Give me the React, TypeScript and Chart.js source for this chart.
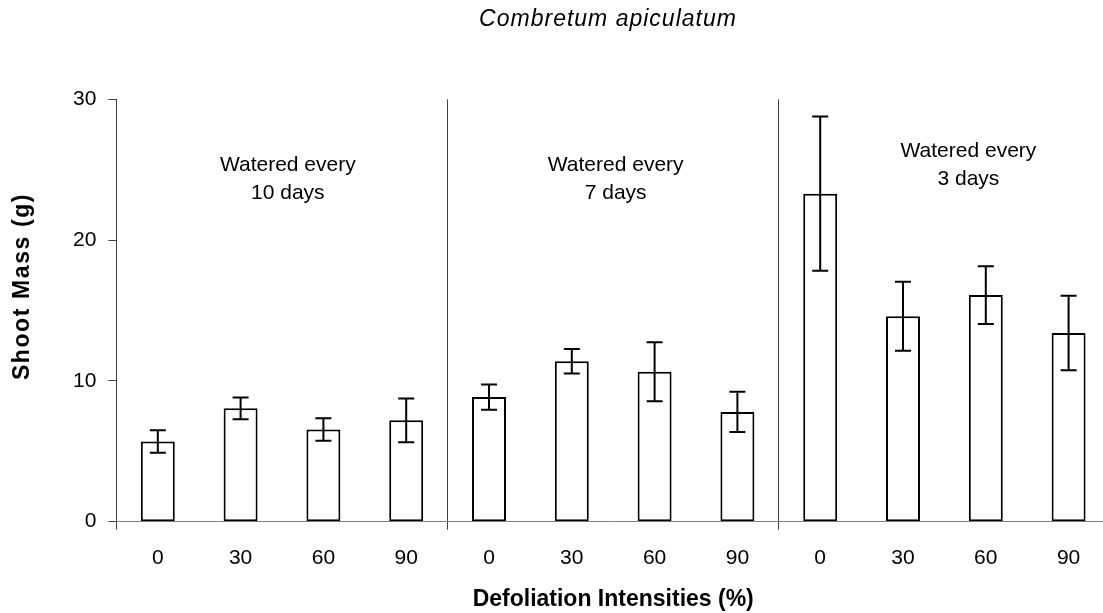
import { useEffect, useRef } from "react";
import { Chart, registerables } from "chart.js";

Chart.register(...registerables);

// Defoliation intensity (%) for each pot, three watering regimes of four treatments
const defoliation = ["0", "30", "60", "90", "0", "30", "60", "90", "0", "30", "60", "90"];
// Mean shoot mass (g)
const shootMass = [5.7, 8.05, 6.55, 7.2, 8.85, 11.4, 10.65, 7.8, 23.3, 14.6, 16.1, 13.4];
// Standard error of the mean (g)
const standardError = [0.8, 0.77, 0.8, 1.55, 0.9, 0.87, 2.1, 1.43, 5.47, 2.45, 2.05, 2.64];
// Shoot mass axis ticks
const massTicks = [0, 10, 20, 30];
// Watering regime captions, one per group of four bars
const regimeCaptions = [
  ["Watered every", "10 days"],
  ["Watered every", "7 days"],
  ["Watered every", "3 days"],
];

const FONT = "'Liberation Sans', Arial, Helvetica, sans-serif";
const W = 1126;
const H = 613;

// where each caption sits: category index and shoot-mass value of its first line
const captionAnchors = [
  { index: 1.57, mass: 25.3 },
  { index: 5.53, mass: 25.3 },
  { index: 9.79, mass: 26.3 },
];

const overlayPlugin = {
  id: "overlay",
  afterDatasetsDraw(chart: any) {
    const { ctx, scales } = chart;
    const x = scales.x;
    const y = scales.y;
    ctx.save();

    // error bars (mean ± SE)
    ctx.strokeStyle = "#000";
    ctx.lineWidth = 2;
    const meta = chart.getDatasetMeta(0);
    meta.data.forEach((bar: any, i: number) => {
      const cx = bar.x;
      const hi = y.getPixelForValue(shootMass[i] + standardError[i]);
      const lo = y.getPixelForValue(shootMass[i] - standardError[i]);
      ctx.beginPath();
      ctx.moveTo(cx, hi);
      ctx.lineTo(cx, lo);
      ctx.moveTo(cx - 8, hi);
      ctx.lineTo(cx + 8, hi);
      ctx.moveTo(cx - 8, lo);
      ctx.lineTo(cx + 8, lo);
      ctx.stroke();
    });

    // watering regime captions
    ctx.fillStyle = "#000";
    ctx.font = `21px ${FONT}`;
    ctx.textAlign = "center";
    ctx.textBaseline = "middle";
    regimeCaptions.forEach((lines, g) => {
      const a = captionAnchors[g];
      const px = x.getPixelForValue(a.index);
      const py = y.getPixelForValue(a.mass);
      lines.forEach((line, k) => ctx.fillText(line, px, py + k * 28));
    });

    // chart title
    ctx.font = `italic 23px ${FONT}`;
    (ctx as any).letterSpacing = "1px";
    ctx.fillText("Combretum apiculatum", 608, 20);

    // vertical axis title
    ctx.translate(22.5, 286.5);
    ctx.rotate(-Math.PI / 2);
    ctx.font = `bold 23px ${FONT}`;
    (ctx as any).letterSpacing = "1.6px";
    ctx.fillText("Shoot Mass (g)", 0, 0);

    ctx.restore();
  },
};

const BOUNDARIES = [0, 4, 8, 12];

export default function App() {
  const canvasRef = useRef<HTMLCanvasElement | null>(null);

  useEffect(() => {
    const canvas = canvasRef.current;
    if (!canvas) return;
    const chart = new Chart(canvas, {
      type: "bar",
      data: {
        labels: defoliation,
        datasets: [
          {
            data: shootMass,
            backgroundColor: "#ffffff",
            borderColor: "#000000",
            borderWidth: 2,
            borderSkipped: false,
            barPercentage: 0.41,
            categoryPercentage: 1,
          },
        ],
      },
      options: {
        responsive: false,
        animation: false,
        devicePixelRatio: 1,
        layout: { padding: { top: 99.3, left: 0, right: W - 1110, bottom: 0 } },
        plugins: {
          legend: { display: false },
          title: { display: false },
          tooltip: { enabled: false },
        },
        scales: {
          x: {
            type: "category",
            offset: true,
            grid: {
              display: true,
              offset: true,
              drawOnChartArea: true,
              drawTicks: true,
              tickLength: 8,
              lineWidth: 1,
              color: (c: any) =>
                c.index !== undefined && BOUNDARIES.includes(c.index) ? "#404040" : "rgba(0,0,0,0)",
            },
            border: { display: true, color: "#808080", width: 1 },
            ticks: {
              color: "#000",
              font: { family: FONT, size: 21 },
              padding: 16,
              maxRotation: 0,
              autoSkip: false,
            },
            title: {
              display: true,
              text: "Defoliation Intensities (%)",
              color: "#000",
              font: { family: FONT, size: 23, weight: "bold", lineHeight: 1 },
              padding: { top: 0, bottom: 1.5 },
            },
            afterFit: (scale: any) => {
              scale.height = H - 521.7;
            },
          },
          y: {
            min: 0,
            max: 30,
            afterBuildTicks: (scale: any) => {
              scale.ticks = massTicks.map((v) => ({ value: v }));
            },
            grid: {
              display: true,
              drawOnChartArea: false,
              drawTicks: true,
              tickLength: 8,
              color: "#404040",
            },
            border: { display: true, color: "#404040", width: 1 },
            ticks: {
              color: "#000",
              font: { family: FONT, size: 21 },
              padding: 12,
            },
            afterFit: (scale: any) => {
              scale.width = 116.4;
            },
          },
        },
      },
      plugins: [overlayPlugin],
    });
    return () => chart.destroy();
  }, []);

  return (
    <div
      style={{
        position: "fixed",
        left: 0,
        top: 0,
        width: 1103,
        height: H,
        overflow: "hidden",
        background: "#ffffff",
      }}
    >
      <canvas ref={canvasRef} width={W} height={H} style={{ display: "block", width: W, height: H }} />
    </div>
  );
}
